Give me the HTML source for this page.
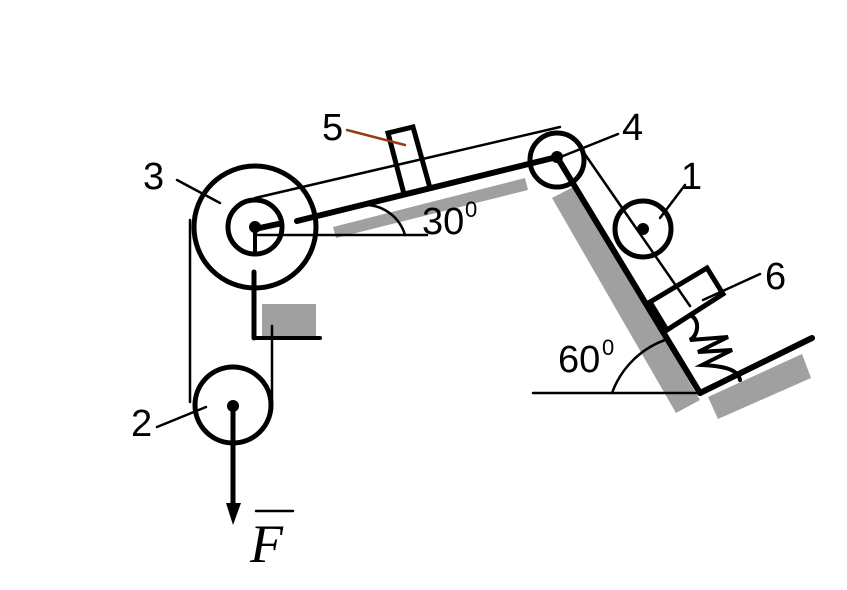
<!DOCTYPE html>
<html><head><style>body{margin:0;background:#fff}svg{display:block}</style></head><body>
<svg width="847" height="590" viewBox="0 0 847 590" xmlns="http://www.w3.org/2000/svg" font-family="Liberation Sans, sans-serif">
<rect width="847" height="590" fill="#fff"/>
<!-- gray bands -->
<polygon points="333,227 525,178 528,190 336,238" fill="#a0a0a0"/>
<polygon points="552,198 575,186 700,400 676,413" fill="#a0a0a0"/>
<polygon points="708,397 802,354 811,378 718,419" fill="#a0a0a0"/>
<rect x="262" y="304" width="54" height="34" fill="#a0a0a0"/>
<g stroke="#000" fill="none" stroke-linecap="round">
<!-- pulley 3 -->
<circle cx="255" cy="227" r="61" stroke-width="5"/>
<circle cx="255" cy="227" r="27" stroke-width="5"/>
<!-- ropes -->
<line x1="255" y1="198" x2="560" y2="127" stroke-width="2.5"/>
<line x1="190" y1="220" x2="190" y2="402" stroke-width="2.5"/>
<line x1="272" y1="326" x2="272" y2="405" stroke-width="2.5"/>
<line x1="582" y1="150" x2="690" y2="306" stroke-width="2.5"/>
<!-- bracket -->
<line x1="254" y1="272" x2="254" y2="338" stroke-width="5"/>
<line x1="254" y1="338" x2="320" y2="338" stroke-width="4"/>
<line x1="255" y1="227" x2="255" y2="252" stroke-width="4"/>
<!-- horizontal 30 -->
<line x1="255" y1="235" x2="427" y2="235" stroke-width="2.5"/>
<path d="M368,205 A42,42 0 0 1 405,235" stroke-width="2.5"/>
<!-- incline -->
<line x1="297" y1="221" x2="557" y2="157" stroke-width="6"/>
<line x1="255" y1="229" x2="278" y2="224" stroke-width="6"/>
<!-- block 5 -->
<polygon points="388,133 413,127 430,188 404,194" stroke-width="5"/>
<!-- pulley 4 -->
<circle cx="557" cy="160" r="27" stroke-width="5"/>
<!-- right incline -->
<line x1="557" y1="157" x2="700" y2="393" stroke-width="6"/>
<line x1="700" y1="393" x2="812" y2="338" stroke-width="6"/>
<line x1="533" y1="393" x2="700" y2="393" stroke-width="2.5"/>
<path d="M612,393 A88,88 0 0 1 668,339" stroke-width="2.5"/>
<!-- pulley 1 -->
<circle cx="643" cy="229" r="28" stroke-width="5"/>
<!-- block 6 -->
<polygon points="650,302 707,268 723,294 667,330" stroke-width="5"/>
<!-- spring -->
<path d="M692,316 C700,322 698,335 690,340 L728,337 L698,352 L732,350 L702,365 C720,366 738,368 740,380" stroke-width="4"/>
<!-- pulley 2 -->
<circle cx="233" cy="405" r="38" stroke-width="5"/>
<line x1="233" y1="405" x2="233" y2="505" stroke-width="5"/>
<!-- leaders -->
<line x1="347" y1="130" x2="405" y2="145" stroke="#9b3a10" stroke-width="2.5"/>
<line x1="177" y1="180" x2="220" y2="203" stroke-width="2.5"/>
<line x1="558" y1="158" x2="618" y2="134" stroke-width="2.5"/>
<line x1="660" y1="218" x2="685" y2="185" stroke-width="2.5"/>
<line x1="703" y1="300" x2="760" y2="274" stroke-width="2.5"/>
<line x1="157" y1="427" x2="206" y2="407" stroke-width="2.5"/>
<line x1="256" y1="511" x2="293" y2="511" stroke-width="2.5"/>
</g>
<g fill="#000">
<circle cx="255" cy="227" r="6"/>
<circle cx="557" cy="157" r="6"/>
<circle cx="643" cy="229" r="6"/>
<circle cx="233" cy="406" r="6"/>
<polygon points="226,503 241,503 233,525"/>
</g>
<g font-size="38" fill="#000">
<text x="322" y="140">5</text>
<text x="143" y="189">3</text>
<text x="622" y="140">4</text>
<text x="681" y="189">1</text>
<text x="765" y="289">6</text>
<text x="131" y="436">2</text>
<text x="422" y="234">30</text>
<text x="465" y="217" font-size="22">0</text>
<text x="558" y="372">60</text>
<text x="602" y="355" font-size="22">0</text>
<text x="250" y="562" font-family="Liberation Serif, serif" font-style="italic" font-size="54">F</text>
</g>
</svg>
</body></html>
